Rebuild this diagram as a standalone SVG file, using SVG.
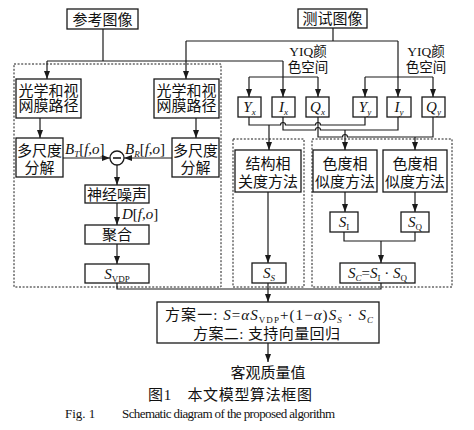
<svg xmlns="http://www.w3.org/2000/svg" width="474" height="430" viewBox="0 0 474 430">
<defs>
<marker id="ah" viewBox="0 0 8 6" refX="8" refY="3" markerWidth="8" markerHeight="6" markerUnits="userSpaceOnUse" orient="auto">
<path d="M0,0 L8,3 L0,6 z" fill="#1a1a1a"/>
</marker>
</defs>
<style>
.bx{fill:#fff;stroke:#1a1a1a;stroke-width:1.3}
.dash{fill:none;stroke:#1a1a1a;stroke-width:1;stroke-dasharray:2 1.6}
.ln{fill:none;stroke:#1a1a1a;stroke-width:1.2}
.arr{marker-end:url(#ah)}
.cn{font-family:"Liberation Serif","Noto Sans CJK SC",serif;font-size:15px;fill:#111;text-anchor:middle}
.m{font-family:"Liberation Serif","Noto Sans CJK SC",serif;font-size:15px;fill:#111}
.yiq{font-size:13.5px}
.i{font-style:italic}
.sub{font-size:9px}
.fig{font-size:13px}
</style>
<rect width="474" height="430" fill="#fff"/>

<g id="groups">
<rect class="dash" x="14" y="64" width="207" height="223"/>
<rect class="dash" x="233" y="139" width="71" height="148"/>
<rect class="dash" x="312" y="139" width="140" height="148"/>
</g>

<g id="connectors">
<path class="ln" d="M103,29 V61"/>
<path class="ln" d="M47,61 H283"/>
<path class="ln arr" d="M47,61 V79"/>
<path class="ln arr" d="M283,61 V97"/>
<path class="ln" d="M333,28 V41"/>
<path class="ln" d="M186,41 H398"/>
<path class="ln arr" d="M186,41 V79"/>
<path class="ln arr" d="M398,41 V97"/>
<path class="ln" d="M249,77 H318"/>
<path class="ln arr" d="M249,77 V97"/>
<path class="ln arr" d="M318,77 V97"/>
<path class="ln" d="M365,77 H433"/>
<path class="ln arr" d="M365,77 V97"/>
<path class="ln arr" d="M433,77 V97"/>
<path class="ln arr" d="M40,118 V138"/>
<path class="ln arr" d="M196,118 V138"/>
<path class="ln arr" d="M63,158 H110"/>
<path class="ln arr" d="M172,158 H124"/>
<path class="ln arr" d="M117,165 V185"/>
<path class="ln arr" d="M117,203 V225"/>
<path class="ln arr" d="M117,244 V264"/>
<path class="ln" d="M249,117 V125 H280.5 A2.5,2.5 0 0 1 285.5,125 H315.5 A2.5,2.5 0 0 1 320.5,125 H365 V117"/>
<path class="ln" d="M283,117 V130 H315.5 A2.5,2.5 0 0 1 320.5,130 H398 V117"/>
<path class="ln" d="M318,117 V137 H342.5 A2.5,2.5 0 0 1 347.5,137 H433 V117"/>
<path class="ln arr" d="M269,125 V150"/>
<path class="ln arr" d="M345,130 V150"/>
<path class="ln arr" d="M415,137 V150"/>
<path class="ln arr" d="M268,192 V263"/>
<path class="ln arr" d="M345,192 V212"/>
<path class="ln arr" d="M415,192 V212"/>
<path class="ln" d="M344,232 V241 H415 V232"/>
<path class="ln arr" d="M381,241 V263"/>
<path class="ln" d="M117,283 V289 H381 V283"/>
<path class="ln arr" d="M268,283 V302"/>
<path class="ln arr" d="M268,343 V362"/>
</g>

<g id="ref_img"><rect class="bx" x="67" y="9" width="71" height="20"/><text class="cn" x="102.5" y="24.5">参考图像</text></g>
<g id="test_img"><rect class="bx" x="298" y="9" width="69" height="19"/><text class="cn" x="332.5" y="24">测试图像</text></g>

<g id="optic_l"><rect class="bx" x="16" y="79" width="65" height="39"/><text class="cn" x="48.5" y="95.5">光学和视</text><text class="cn" x="48.5" y="111">网膜路径</text></g>
<g id="optic_r"><rect class="bx" x="154" y="79" width="65" height="39"/><text class="cn" x="186.5" y="95.5">光学和视</text><text class="cn" x="186.5" y="111">网膜路径</text></g>
<g id="multi_l"><rect class="bx" x="16" y="138" width="47" height="39"/><text class="cn" x="39.5" y="155.5">多尺度</text><text class="cn" x="39.5" y="172.5">分解</text></g>
<g id="multi_r"><rect class="bx" x="172" y="138" width="47" height="39"/><text class="cn" x="195.5" y="155.5">多尺度</text><text class="cn" x="195.5" y="172.5">分解</text></g>
<g id="minus"><circle cx="117" cy="158" r="7" fill="#fff" stroke="#1a1a1a" stroke-width="1.3"/><path d="M113,158 H121" stroke="#1a1a1a" stroke-width="1.6"/></g>
<g id="lbl_bt"><text class="m" x="65" y="154"><tspan class="i">B</tspan><tspan class="i sub" dy="3">T</tspan><tspan dy="-3">[</tspan><tspan class="i">f</tspan>,<tspan class="i">o</tspan>]</text></g>
<g id="lbl_br"><text class="m" x="125" y="154"><tspan class="i">B</tspan><tspan class="i sub" dy="3">R</tspan><tspan dy="-3">[</tspan><tspan class="i">f</tspan>,<tspan class="i">o</tspan>]</text></g>
<g id="noise"><rect class="bx" x="85" y="185" width="64" height="18"/><text class="cn" x="117" y="199.5">神经噪声</text></g>
<g id="lbl_d"><text class="m" x="122" y="219"><tspan class="i">D</tspan>[<tspan class="i">f</tspan>,<tspan class="i">o</tspan>]</text></g>
<g id="pool"><rect class="bx" x="85" y="225" width="64" height="19"/><text class="cn" x="117" y="240">聚合</text></g>
<g id="svdp"><rect class="bx" x="85" y="264" width="64" height="19"/><text class="cn" x="117" y="278.5"><tspan class="i">S</tspan><tspan class="sub" dy="3">VDP</tspan></text></g>

<g id="yiq_l"><text class="cn yiq" x="308" y="56">YIQ颜</text><text class="cn yiq" x="308" y="71.5">色空间</text></g>
<g id="yiq_r"><text class="cn yiq" x="426" y="56">YIQ颜</text><text class="cn yiq" x="426" y="71.5">色空间</text></g>

<g id="yx"><rect class="bx" x="238" y="97" width="23" height="20"/><text class="cn" x="249.5" y="112"><tspan class="i">Y</tspan><tspan class="i sub" dy="3">x</tspan></text></g>
<g id="ix"><rect class="bx" x="272" y="97" width="23" height="20"/><text class="cn" x="283.5" y="112"><tspan class="i">I</tspan><tspan class="i sub" dy="3">x</tspan></text></g>
<g id="qx"><rect class="bx" x="306" y="97" width="23" height="20"/><text class="cn" x="317.5" y="112"><tspan class="i">Q</tspan><tspan class="i sub" dy="3">x</tspan></text></g>
<g id="yy"><rect class="bx" x="353" y="97" width="24" height="20"/><text class="cn" x="365" y="112"><tspan class="i">Y</tspan><tspan class="i sub" dy="3">y</tspan></text></g>
<g id="iy"><rect class="bx" x="387" y="97" width="24" height="20"/><text class="cn" x="399" y="112"><tspan class="i">I</tspan><tspan class="i sub" dy="3">y</tspan></text></g>
<g id="qy"><rect class="bx" x="422" y="97" width="23" height="20"/><text class="cn" x="433.5" y="112"><tspan class="i">Q</tspan><tspan class="i sub" dy="3">y</tspan></text></g>

<g id="struct"><rect class="bx" x="235" y="150" width="66" height="42"/><text class="cn" x="268" y="168.5">结构相</text><text class="cn" x="268" y="186.5">关度方法</text></g>
<g id="chroma1"><rect class="bx" x="313" y="150" width="64" height="42"/><text class="cn" x="345" y="168.5">色度相</text><text class="cn" x="345" y="186.5">似度方法</text></g>
<g id="chroma2"><rect class="bx" x="383" y="150" width="64" height="42"/><text class="cn" x="415" y="168.5">色度相</text><text class="cn" x="415" y="186.5">似度方法</text></g>
<g id="si"><rect class="bx" x="330" y="212" width="28" height="20"/><text class="cn" x="344" y="227"><tspan class="i">S</tspan><tspan class="sub" dy="3">I</tspan></text></g>
<g id="sq"><rect class="bx" x="401" y="212" width="28" height="20"/><text class="cn" x="415" y="227"><tspan class="i">S</tspan><tspan class="sub" dy="3">Q</tspan></text></g>
<g id="ss"><rect class="bx" x="252" y="263" width="34" height="20"/><text class="cn" x="269" y="278"><tspan class="i">S</tspan><tspan class="i sub" dy="3">S</tspan></text></g>
<g id="sc"><rect class="bx" x="340" y="263" width="75" height="20"/><text class="cn" x="377.5" y="278"><tspan class="i">S</tspan><tspan class="i sub" dy="3">C</tspan><tspan dy="-3">=</tspan><tspan class="i">S</tspan><tspan class="sub" dy="3">I</tspan><tspan dy="-3"> · </tspan><tspan class="i">S</tspan><tspan class="sub" dy="3">Q</tspan></text></g>

<g id="scheme"><rect class="bx" x="157" y="302" width="222" height="41"/>
<text class="m" x="165" y="320" textLength="208" lengthAdjust="spacing">方案一: <tspan class="i">S</tspan>=<tspan class="i">αS</tspan><tspan class="sub" dy="3">VDP</tspan><tspan dy="-3">+(1−</tspan><tspan class="i">α</tspan>)<tspan class="i">S</tspan><tspan class="i sub" dy="3">S</tspan><tspan dy="-3"> · </tspan><tspan class="i">S</tspan><tspan class="i sub" dy="3">C</tspan></text>
<text class="m" x="193" y="338.5" textLength="147" lengthAdjust="spacing">方案二: 支持向量回归</text>
</g>

<g id="result"><text class="cn" x="268" y="377.5">客观质量值</text></g>

<g id="caption">
<text class="m" x="148" y="399.5" textLength="164" lengthAdjust="spacing">图1　本文模型算法框图</text>
<text class="m fig" x="65" y="418">Fig. 1</text>
<text class="m fig" x="122" y="418" textLength="213" lengthAdjust="spacing">Schematic diagram of the proposed algorithm</text>
</g>
</svg>
